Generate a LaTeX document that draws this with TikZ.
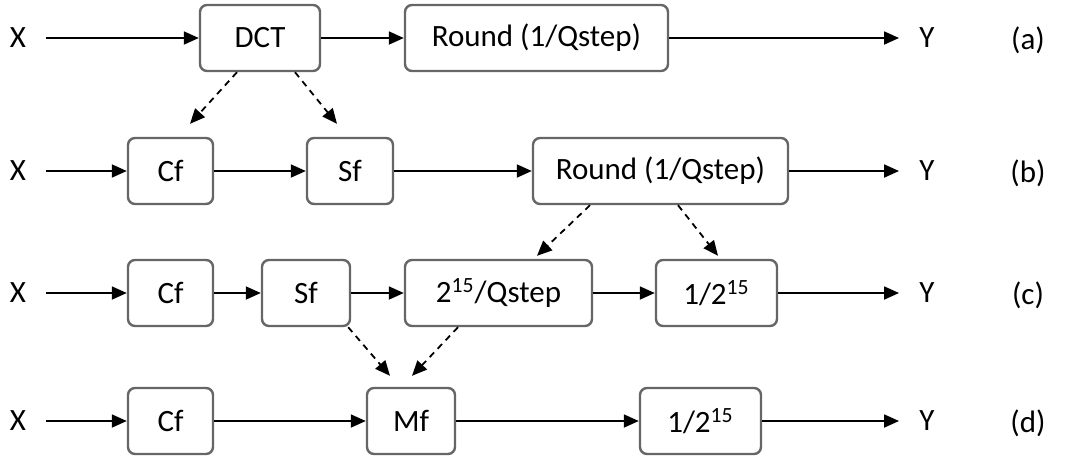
\documentclass[tikz,border=0pt]{standalone}
\usepackage{fontspec}
\setmainfont{Carlito}
\usetikzlibrary{arrows.meta,calc}

\begin{document}
\begin{tikzpicture}[x=0.5pt,y=-0.5pt,
	blk/.style={draw=black!60,line width=1.2pt,rounded corners=3.5pt,minimum height=33pt,inner sep=0pt,font=\fontsize{15.5}{18}\selectfont},
	lbl/.style={inner xsep=10pt,inner ysep=0pt,font=\fontsize{15.5}{18}\selectfont},
	flow/.style={-{Triangle[length=7.5pt,width=6.5pt]},line width=0.9pt},
	dep/.style={flow,dash pattern=on 3.2pt off 2.6pt}]

	\useasboundingbox (0,0) rectangle (1072,457);

	% (a) plain transform and quantiser
	\node[lbl] (Xa) at (18,38) {X};
	\node[blk,minimum width=60pt] (DCT) at (260,38) {DCT};
	\node[blk,minimum width=131.5pt] (Ra) at (536.5,38) {Round (1/Qstep)};
	\node[lbl] (Ya) at (927,38) {Y};
	\node[lbl] (la) at (1028,40) {(a)};
	\draw[flow] (Xa) -- (DCT);
	\draw[flow] (DCT) -- (Ra);
	\draw[flow] (Ra) -- (Ya);

	% (b) core transform and scaling split
	\node[lbl] (Xb) at (18,171) {X};
	\node[blk,minimum width=42.5pt] (Cfb) at (170.5,171) {Cf};
	\node[blk,minimum width=43pt] (Sfb) at (350,171) {Sf};
	\node[blk,minimum width=127.5pt] (Rb) at (660.5,171) {Round (1/Qstep)};
	\node[lbl] (Yb) at (927,171) {Y};
	\node[lbl] (lb) at (1028,173) {(b)};
	\draw[flow] (Xb) -- (Cfb);
	\draw[flow] (Cfb) -- (Sfb);
	\draw[flow] (Sfb) -- (Rb);
	\draw[flow] (Rb) -- (Yb);

	\draw[dep] ($(DCT.south)+(-23,0)$) -- ($(Cfb.north)+(19.5,-13)$);
	\draw[dep] ($(DCT.south)+(35,0)$) -- ($(Sfb.north)+(-13,-13)$);

	% (c) integer quantiser
	\node[lbl] (Xc) at (18,293) {X};
	\node[blk,minimum width=42.5pt] (Cfc) at (170.5,293) {Cf};
	\node[blk,minimum width=44pt] (Sfc) at (306,293) {Sf};
	\node[blk,minimum width=93.5pt] (Qc) at (498.5,293) {2\textsuperscript{15}/Qstep};
	\node[blk,minimum width=60.5pt] (Ic) at (716.5,293) {1/2\textsuperscript{15}};
	\node[lbl] (Yc) at (927,293) {Y};
	\node[lbl] (lc) at (1028,295) {(c)};
	\draw[flow] (Xc) -- (Cfc);
	\draw[flow] (Cfc) -- (Sfc);
	\draw[flow] (Sfc) -- (Qc);
	\draw[flow] (Qc) -- (Ic);
	\draw[flow] (Ic) -- (Yc);

	\draw[dep] ($(Rb.south)+(-70.5,0)$) -- ($(Qc.north)+(38.5,-3)$);
	\draw[dep] ($(Rb.south)+(17.5,0)$) -- ($(Ic.north)+(1.5,-3)$);

	% (d) merged multiplication factor
	\node[lbl] (Xd) at (18,421) {X};
	\node[blk,minimum width=42.5pt] (Cfd) at (170.5,421) {Cf};
	\node[blk,minimum width=44pt] (Mf) at (411,421) {Mf};
	\node[blk,minimum width=60.5pt] (Id) at (700.5,421) {1/2\textsuperscript{15}};
	\node[lbl] (Yd) at (927,421) {Y};
	\node[lbl] (ld) at (1028,423) {(d)};
	\draw[flow] (Xd) -- (Cfd);
	\draw[flow] (Cfd) -- (Mf);
	\draw[flow] (Mf) -- (Id);
	\draw[flow] (Id) -- (Yd);

	\draw[dep] ($(Sfc.south east)+(-3,0)$) -- ($(Mf.north)+(-21,-11)$);
	\draw[dep] ($(Qc.south)+(-40.5,0)$) -- ($(Mf.north)+(1,-11)$);

\end{tikzpicture}
\end{document}
